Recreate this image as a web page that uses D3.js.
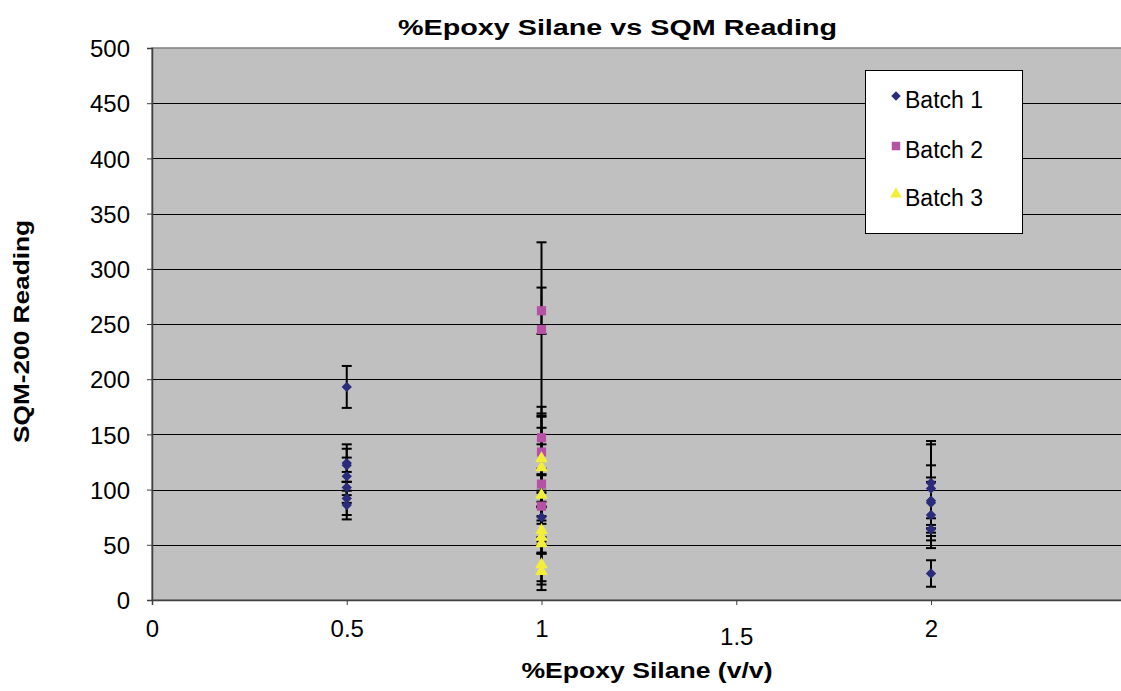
<!DOCTYPE html>
<html><head><meta charset="utf-8">
<script src="https://cdn.jsdelivr.net/npm/d3@7/dist/d3.min.js"></script>
<style>
html,body{margin:0;padding:0;background:#fff;overflow:hidden}
text{font-family:"Liberation Sans",Arial,sans-serif}
</style></head><body>
<svg id="c" width="1121" height="691"></svg>
<script>
// ---- data ----
const xTicks = [0, 0.5, 1, 1.5, 2];
const yTicks = [0, 50, 100, 150, 200, 250, 300, 350, 400, 450, 500];
const seriesNames = ["Batch 1", "Batch 2", "Batch 3"];

const b1X   = [0.5, 0.5, 0.5, 0.5, 0.5, 0.5, 0.5, 1, 2, 2, 2, 2, 2, 2, 2];
const b1Y   = [193, 124, 122, 112, 102, 92, 86, 75, 106, 101, 90, 88, 77, 64, 24];
const b1Err = [19, 17, 15, 17, 14, 15, 13, 22, 38, 40, 32, 23, 30, 10, 12];

const b2X   = [1, 1, 1, 1, 1, 1];
const b2Y   = [262, 245, 147, 134, 105, 85];
const b2Err = [21, 79, 28, 35, 36, 28];

const b3X   = [1, 1, 1, 1, 1, 1, 1, 1];
const b3Y   = [128, 120, 95, 63, 57, 51, 32, 26];
const b3Err = [39, 36, 19, 21, 15, 34, 18, 17];

// ---- layout ----
const FONT = '"Liberation Sans",Arial,sans-serif';
const svg = d3.select("#c");
const L = 152, T = 48, B = 600;
const x = d3.scaleLinear().domain([0, 2.5]).range([L, L + 2.5 * 389.5]);
const y = d3.scaleLinear().domain([0, 500]).range([B, T]);

// plot area
svg.append("rect").attr("x", L).attr("y", T)
  .attr("width", x(2.5) - L).attr("height", B - T)
  .attr("fill", "#c0c0c0").attr("stroke", "#808080").attr("stroke-width", 1.5);

// gridlines
svg.append("g").selectAll("line").data(yTicks.filter(d => d > 0 && d < 500)).join("line")
  .attr("x1", L).attr("x2", x(2.5))
  .attr("y1", d => Math.round(y(d)) + 0.5).attr("y2", d => Math.round(y(d)) + 0.5)
  .attr("stroke", "#000").attr("stroke-width", 1);

// y axis
const ya = d3.axisLeft(y).tickValues(yTicks).tickSize(5).tickFormat(d3.format("d"));
const gy = svg.append("g").attr("transform", `translate(${L},0)`).call(ya);
gy.select(".domain").attr("stroke", "#404040").attr("stroke-width", 1.5);
gy.selectAll(".tick line").attr("stroke", "#404040");
gy.selectAll(".tick text").attr("font-size", 24).attr("fill", "#000")
  .attr("x", -22).attr("dy", "0.36em").style("font-family", FONT);

// x axis
const xa = d3.axisBottom(x).tickValues(xTicks).tickSize(5).tickFormat(d => String(d));
const gx = svg.append("g").attr("transform", `translate(0,${B})`).call(xa);
gx.select(".domain").attr("stroke", "#404040").attr("stroke-width", 1.5);
gx.selectAll(".tick line").attr("stroke", "#404040");
gx.selectAll(".tick text").attr("font-size", 24).attr("fill", "#000")
  .attr("y", d => d === 1.5 ? 28 : 20).attr("dy", "0.71em")
  .style("font-family", FONT);

// error bars + markers
const colors = ["#2b2b7c", "#b552a6", "#f2ee3a"];
const series = [
  {x: b1X, y: b1Y, e: b1Err, shape: d3.symbolDiamond2, size: 68},
  {x: b2X, y: b2Y, e: b2Err, shape: d3.symbolSquare, size: 85},
  {x: b3X, y: b3Y, e: b3Err, shape: d3.symbolTriangle, size: 70}
];
const eg = svg.append("g");
series.forEach(s => {
  s.y.forEach((v, i) => {
    const cx = x(s.x[i]);
    eg.append("line").attr("x1", cx).attr("x2", cx)
      .attr("y1", y(v - s.e[i])).attr("y2", y(v + s.e[i]))
      .attr("stroke", "#000").attr("stroke-width", 2);
    [v - s.e[i], v + s.e[i]].forEach(t => {
      eg.append("line").attr("x1", cx - 5).attr("x2", cx + 5)
        .attr("y1", y(t)).attr("y2", y(t))
        .attr("stroke", "#000").attr("stroke-width", 2);
    });
  });
});
const mg = svg.append("g");
series.forEach((s, k) => {
  mg.selectAll(null).data(s.y).join("path")
    .attr("transform", (v, i) => `translate(${x(s.x[i])},${y(v)})`)
    .attr("d", d3.symbol().type(s.shape).size(s.size))
    .attr("fill", colors[k]);
});

// titles
svg.append("text").attr("x", 617.5).attr("y", 35).attr("text-anchor", "middle")
  .attr("font-size", 22).attr("font-weight", "bold")
  .attr("textLength", 439).attr("lengthAdjust", "spacingAndGlyphs")
  .text("%Epoxy Silane vs SQM Reading");
svg.append("text").attr("x", 647).attr("y", 678).attr("text-anchor", "middle")
  .attr("font-size", 22).attr("font-weight", "bold")
  .attr("textLength", 251).attr("lengthAdjust", "spacingAndGlyphs")
  .text("%Epoxy Silane (v/v)");
svg.append("text").attr("transform", "translate(28.5,331.5) rotate(-90)").attr("text-anchor", "middle")
  .attr("font-size", 22).attr("font-weight", "bold")
  .attr("textLength", 223).attr("lengthAdjust", "spacingAndGlyphs")
  .text("SQM-200 Reading");

// legend
const lg = svg.append("g");
lg.append("rect").attr("x", 865.5).attr("y", 70.5).attr("width", 157).attr("height", 163)
  .attr("fill", "#fff").attr("stroke", "#000").attr("stroke-width", 1);
const ly = [100, 150, 198];
series.forEach((s, k) => {
  lg.append("path").attr("transform", `translate(896,${ly[k] - 4})`)
    .attr("d", d3.symbol().type(s.shape).size(s.size * 0.85)).attr("fill", colors[k]);
  lg.append("text").attr("x", 905).attr("y", ly[k] + 8).attr("font-size", 23)
    .text(seriesNames[k]);
});
</script>
</body></html>
